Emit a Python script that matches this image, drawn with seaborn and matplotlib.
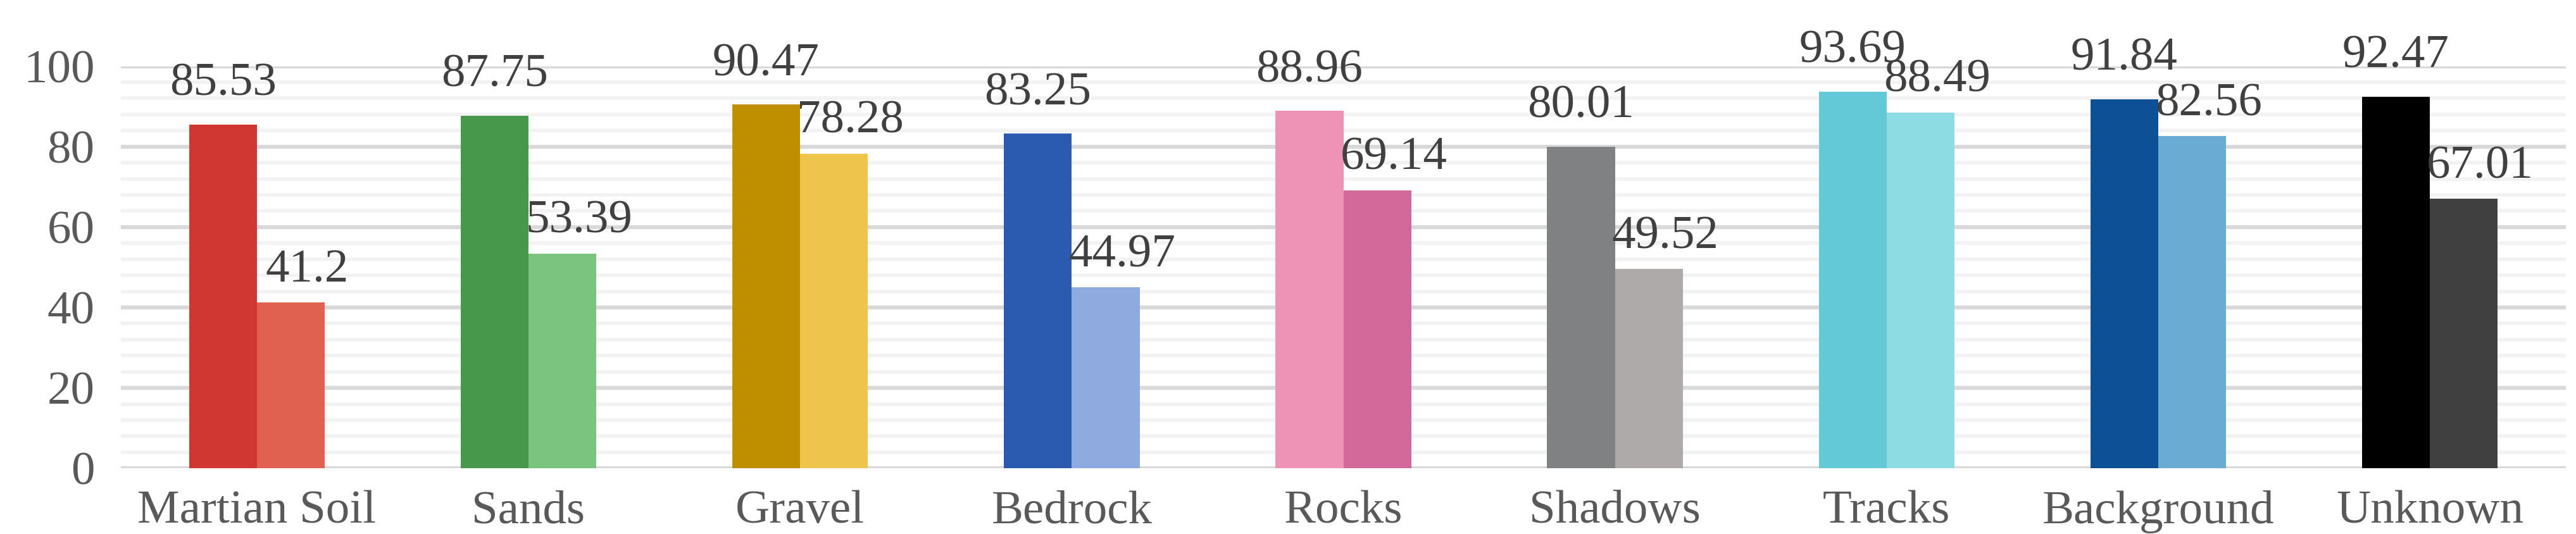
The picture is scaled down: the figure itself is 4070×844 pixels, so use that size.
import pandas as pd
import matplotlib
matplotlib.use("Agg")
import matplotlib.pyplot as plt
import seaborn as sns
from matplotlib.ticker import MultipleLocator

# Data
categories = ['Martian Soil', 'Sands', 'Gravel', 'Bedrock', 'Rocks', 'Shadows', 'Tracks', 'Background', 'Unknown']
series_a = [85.53, 87.75, 90.47, 83.25, 88.96, 80.01, 93.69, 91.84, 92.47]
series_b = [41.2, 53.39, 78.28, 44.97, 69.14, 49.52, 88.49, 82.56, 67.01]
colors_a = ['#d03733', '#47984b', '#c08f00', '#2a5bb0', '#ef93b6', '#7f8183', '#63c9d6', '#0e5096', '#000000']
colors_b = ['#e06150', '#7bc47f', '#eec44d', '#8eaadf', '#d3689a', '#aeaaaa', '#8ddbe3', '#6aabd4', '#404040']

df = pd.DataFrame({
    'category': categories * 2,
    'value': series_a + series_b,
    'series': ['a'] * len(categories) + ['b'] * len(categories),
})

sns.set_style("white")
plt.rcParams['font.family'] = ['Liberation Serif', 'DejaVu Serif']

fig = plt.figure(figsize=(40.7, 8.44), dpi=100)
ax = fig.add_axes([0.047, 0.123, 0.949, 0.753])
sns.barplot(data=df, x='category', y='value', hue='series', order=categories,
            width=0.5, ax=ax, legend=False, saturation=1, linewidth=0)

# recolor each bar individually
for i, p in enumerate(ax.patches[:len(categories)]):
    p.set_facecolor(colors_a[i])
    p.set_edgecolor('none')
for i, p in enumerate(ax.patches[len(categories):2 * len(categories)]):
    p.set_facecolor(colors_b[i])
    p.set_edgecolor('none')

for i in range(len(categories)):
    ax.text(i - 0.125, series_a[i] + 10, f"{series_a[i]:g}", ha='center', va='center',
            fontsize=54, color='#404040', clip_on=False)
    ax.text(i + 0.185, series_b[i] + 8, f"{series_b[i]:g}", ha='center', va='center',
            fontsize=54, color='#404040', clip_on=False)

ax.set_xlim(-0.5, len(categories) - 0.5)
ax.set_ylim(0, 100)
ax.yaxis.set_major_locator(MultipleLocator(20))
ax.yaxis.set_minor_locator(MultipleLocator(4))
ax.grid(axis='y', which='major', color='#d9d9d9', linewidth=4.5)
ax.grid(axis='y', which='minor', color='#f2f2f2', linewidth=4)
ax.set_axisbelow(True)
for s in ax.spines.values():
    s.set_visible(False)
ax.tick_params(axis='both', which='both', length=0, labelsize=54, labelcolor='#595959')
ax.tick_params(axis='y', pad=30)
ax.tick_params(axis='x', pad=25)
ax.set_xlabel('')
ax.set_ylabel('')

fig.savefig('out.png', dpi=100)
